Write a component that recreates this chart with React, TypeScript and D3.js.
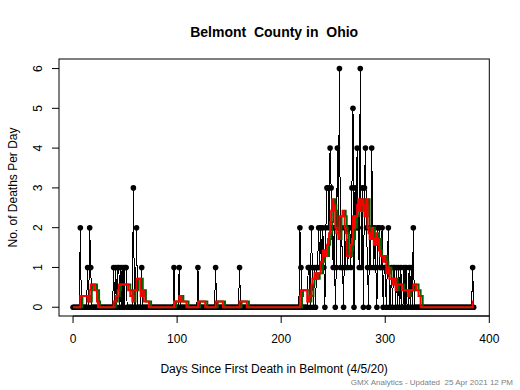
import React from "react";
import * as d3 from "d3";

// days (since first death) with at least one death, and the count on that day
const deathDays = [
  7, 14, 16, 17,
  39, 41, 43, 44, 46, 48, 50, 51, 58, 61, 66,
  97, 102, 120, 137, 160,
  218, 219, 226, 227, 229, 230, 232, 234,
  235, 236, 237, 238, 239, 240, 241, 243, 244, 245, 246, 247, 248, 249, 250,
  251, 253, 254, 255, 256, 257, 258, 259, 261, 262, 263, 264, 265, 266, 267, 268, 269,
  271, 272, 273, 274, 275, 276, 277, 278, 280, 281, 282, 283, 285, 286, 287, 288, 289, 290, 291,
  293, 294, 295, 296, 297, 299, 300, 302, 303, 306, 308, 309, 311, 313, 315, 318, 320, 323, 325, 327,
  384,
];
const deathCounts = [
  2, 1, 2, 1,
  1, 1, 1, 1, 1, 1, 1, 1, 3, 2, 1,
  1, 1, 1, 1, 1,
  2, 1, 1, 1, 2, 1, 1, 1,
  1, 2, 1, 2, 1, 2, 1, 2, 3, 3, 2, 4, 3, 2, 1,
  2, 1, 4, 2, 6, 1, 2, 1, 2, 1, 2, 1, 2, 2, 1, 3, 5,
  3, 2, 4, 2, 1, 6, 1, 3, 3, 4, 2, 1, 2, 1, 4, 2, 1, 2, 1,
  2, 2, 1, 1, 2, 1, 1, 1, 2, 1, 1, 1, 1, 1, 1, 1, 1, 1, 1, 2,
  1,
];
const lastDay = 385;

const xTicks = [0, 100, 200, 300, 400];
const yTicks = [0, 1, 2, 3, 4, 5, 6];

const font = "'Liberation Sans', Arial, sans-serif";

export default function App() {
  const left = 59, right = 489.3, top = 59, bottom = 316;

  const x = d3.scaleLinear().domain([-13.5, 400]).range([left, right]);
  const y = d3.scaleLinear().domain([-0.22, 6.24]).range([bottom, top]);

  // full daily series, zero on days not listed
  const lookup = new Map(deathDays.map((d, i) => [d, deathCounts[i]]));
  const daily = d3.range(0, lastDay + 1).map((day) => ({ day, n: lookup.get(day) ?? 0 }));

  // trailing 7 day mean
  const avg7 = daily.map((d, i) => ({
    day: d.day,
    n: d3.sum(daily.slice(Math.max(0, i - 6), i + 1), (e) => e.n) / 7,
  }));
  // same mean, reported two days later
  const avgLag = daily.map((d, i) => ({
    day: d.day,
    n: i >= 2 ? avg7[i - 2].n : 0,
  }));

  const line = d3.line<{ day: number; n: number }>().x((d) => x(d.day)).y((d) => y(d.n));
  const step = d3
    .line<{ day: number; n: number }>()
    .x((d) => x(d.day))
    .y((d) => y(d.n))
    .curve(d3.curveStepAfter);

  return (
    <svg
      width={520}
      height={390}
      style={{ position: "absolute", left: 0, top: 0, background: "#fff", fontFamily: font }}
    >
      <rect x={0} y={0} width={520} height={390} fill="#fff" />
      <text x={(left + right) / 2} y={37} textAnchor="middle" fontWeight="bold" fontSize={14}
        style={{ whiteSpace: "pre" }}>
        Belmont  County in  Ohio
      </text>

      {/* data */}
      <path d={line(daily) ?? ""} fill="none" stroke="#000" strokeWidth={1} shapeRendering="crispEdges" />
      {daily.map((d) => (
        <circle key={d.day} cx={x(d.day)} cy={y(d.n)} r={2.8} fill="#000" />
      ))}
      <path d={step(avgLag) ?? ""} fill="none" stroke="#006400" strokeWidth={2} />
      <path d={step(avg7) ?? ""} fill="none" stroke="#ff0000" strokeWidth={2} />

      {/* frame */}
      <rect x={left} y={top} width={right - left} height={bottom - top} fill="none" stroke="#000" strokeWidth={1} />

      {/* x axis */}
      <line x1={x(0)} x2={x(400)} y1={bottom} y2={bottom} stroke="#000" />
      {xTicks.map((t) => (
        <g key={t}>
          <line x1={x(t)} x2={x(t)} y1={bottom} y2={bottom + 7} stroke="#000" />
          <text x={x(t)} y={343} textAnchor="middle" fontSize={12}>{t}</text>
        </g>
      ))}
      {/* y axis */}
      {yTicks.map((t) => (
        <g key={t}>
          <line x1={left - 7} x2={left} y1={y(t)} y2={y(t)} stroke="#000" />
          <text x={42} y={y(t)} textAnchor="middle" fontSize={12}
            transform={`rotate(-90, 42, ${y(t)})`}>{t}</text>
        </g>
      ))}

      <text x={(left + right) / 2} y={373} textAnchor="middle" fontSize={12}>
        Days Since First Death in Belmont (4/5/20)
      </text>
      <text x={17} y={(top + bottom) / 2} textAnchor="middle" fontSize={12}
        transform={`rotate(-90, 17, ${(top + bottom) / 2})`}>
        No. of Deaths Per Day
      </text>
      <text x={513} y={385} textAnchor="end" fontSize={8} fill="#808080" style={{ whiteSpace: "pre" }}>
        GMX Analytics - Updated  25 Apr 2021 12 PM
      </text>
    </svg>
  );
}
